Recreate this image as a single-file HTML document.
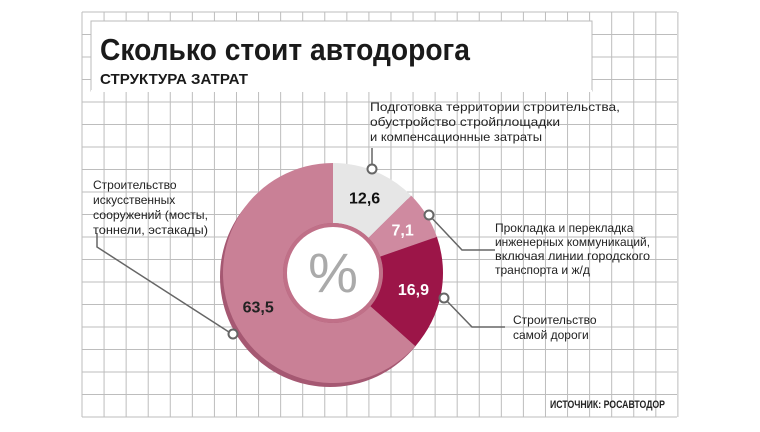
<!DOCTYPE html>
<html><head><meta charset="utf-8"><style>
body{margin:0;background:#fff;}
svg text{font-family:"Liberation Sans","DejaVu Sans",sans-serif;}
</style></head><body>
<svg id="chart" width="760" height="427" viewBox="0 0 760 427" xmlns="http://www.w3.org/2000/svg">
<g id="grid"></g>
<rect x="91" y="21" width="501" height="70" fill="#fff" stroke="#bbb" stroke-width="1"/>
<line x1="91" y1="91" x2="592" y2="91" stroke="#fff" stroke-width="2"/>
<text x="100" y="60" font-size="31" font-weight="bold" fill="#1a1a1a" textLength="370" lengthAdjust="spacingAndGlyphs">Сколько стоит автодорога</text>
<text x="100" y="84" font-size="15" font-weight="bold" fill="#1a1a1a" textLength="148" lengthAdjust="spacingAndGlyphs">СТРУКТУРА ЗАТРАТ</text>
<g id="donut"></g>
<text x="333" y="292" font-size="56" fill="#aaa" text-anchor="middle">%</text>
<g id="leaders" fill="none" stroke="#666" stroke-width="1.5">
<polyline points="372,148 372,167"/>
<polyline points="429,215 462,250 495,250"/>
<polyline points="444,298 472,327 505,327"/>
<polyline points="97,233 97,247 232,334"/>
</g>
<g fill="#fff" stroke="#666" stroke-width="2">
<circle cx="372" cy="169" r="4.5"/><circle cx="429" cy="215" r="4.5"/><circle cx="444" cy="298" r="4.5"/><circle cx="233" cy="334" r="4.5"/>
</g>
<g font-size="12" fill="#222">
<text x="370" y="111"><tspan textLength="250" lengthAdjust="spacingAndGlyphs">Подготовка территории строительства,</tspan><tspan x="370" dy="15" textLength="190" lengthAdjust="spacingAndGlyphs">обустройство стройплощадки</tspan><tspan x="370" dy="15" textLength="172" lengthAdjust="spacingAndGlyphs">и компенсационные затраты</tspan></text>
<text x="93" y="189">Строительство<tspan x="93" dy="15">искусственных</tspan><tspan x="93" dy="15" textLength="115" lengthAdjust="spacingAndGlyphs">сооружений (мосты,</tspan><tspan x="93" dy="15" textLength="115" lengthAdjust="spacingAndGlyphs">тоннели, эстакады)</tspan></text>
<text x="495" y="232">Прокладка и перекладка<tspan x="495" dy="14" textLength="155" lengthAdjust="spacingAndGlyphs">инженерных коммуникаций,</tspan><tspan x="495" dy="14" textLength="155" lengthAdjust="spacingAndGlyphs">включая линии городского</tspan><tspan x="495" dy="14">транспорта и ж/д</tspan></text>
<text x="513" y="324">Строительство<tspan x="513" dy="15">самой дороги</tspan></text>
<text x="550" y="408" font-size="11" font-weight="bold" textLength="115" lengthAdjust="spacingAndGlyphs">ИСТОЧНИК: РОСАВТОДОР</text>
</g>
</svg>
<script>
const categories = ["Подготовка", "Коммуникации", "Дорога", "Сооружения"];
const values = [12.6, 7.1, 16.9, 63.5];
const valueLabels = ["12,6", "7,1", "16,9", "63,5"];
const colors = ["#e6e6e6", "#cf8aa0", "#9c1548", "#c98096"];
const labelColors = ["#111", "#fff", "#fff", "#222"];
const NS = "http://www.w3.org/2000/svg";
const cx = 333, cy = 273, R = 110, r = 50;
const grid = document.getElementById('grid');
for (let x = 82; x <= 678; x += 22.07) {
  const l = document.createElementNS(NS, 'line');
  
  
  l.setAttribute('x1', x); l.setAttribute('x2', x); l.setAttribute('y1', 12); l.setAttribute('y2', 417);
  l.setAttribute('stroke', '#bdbdbd'); l.setAttribute('stroke-width', '1');
  grid.appendChild(l);
}
for (let y = 12; y <= 418; y += 22.5) {
  const l = document.createElementNS(NS, 'line');
  
  
  l.setAttribute('x1', 82); l.setAttribute('x2', 677); l.setAttribute('y1', y); l.setAttribute('y2', y);
  l.setAttribute('stroke', '#bdbdbd'); l.setAttribute('stroke-width', '1');
  grid.appendChild(l);
}
const donut = document.getElementById('donut');
const rim = document.createElementNS(NS, 'path');


rim.setAttribute('d', `M${cx-3-R},${cy+4} a${R},${R} 0 1,0 ${2*R},0 a${R},${R} 0 1,0 ${-2*R},0 Z`);
rim.setAttribute('fill', '#a55872');
donut.appendChild(rim);
const total = values.reduce((a, b) => a + b, 0);
function pt(rad, a) { return [cx + rad * Math.sin(a), cy - rad * Math.cos(a)]; }
let acc = 0;
values.forEach((v, i) => {
  const a0 = acc / total * 2 * Math.PI, a1 = (acc + v) / total * 2 * Math.PI;
  acc += v;
  const large = (a1 - a0) > Math.PI ? 1 : 0;
  const p0 = pt(R, a0), p1 = pt(R, a1), q1 = pt(r, a1), q0 = pt(r, a0);
  const p = document.createElementNS(NS, 'path');
  
  
  p.setAttribute('d', `M${p0[0]},${p0[1]} A${R},${R} 0 ${large},1 ${p1[0]},${p1[1]} L${q1[0]},${q1[1]} A${r},${r} 0 ${large},0 ${q0[0]},${q0[1]} Z`);
  p.setAttribute('fill', colors[i]);
  donut.appendChild(p);
  const am = (a0 + a1) / 2;
  const lp = pt((R + r) / 2 + 2, am);
  const t = document.createElementNS(NS, 'text');
  
  
  t.setAttribute('x', lp[0]); t.setAttribute('y', lp[1] + 6);
  t.setAttribute('text-anchor', 'middle');
  t.setAttribute('font-size', '16'); t.setAttribute('font-weight', 'bold');
  t.setAttribute('fill', labelColors[i]);
  t.textContent = valueLabels[i];
  donut.appendChild(t);
});
const ring = document.createElementNS(NS, 'circle');


ring.setAttribute('cx', cx); ring.setAttribute('cy', cy); ring.setAttribute('r', r - 2);
ring.setAttribute('fill', '#fff'); ring.setAttribute('stroke', '#c07088'); ring.setAttribute('stroke-width', '4');
donut.appendChild(ring);
</script>
</body></html>
